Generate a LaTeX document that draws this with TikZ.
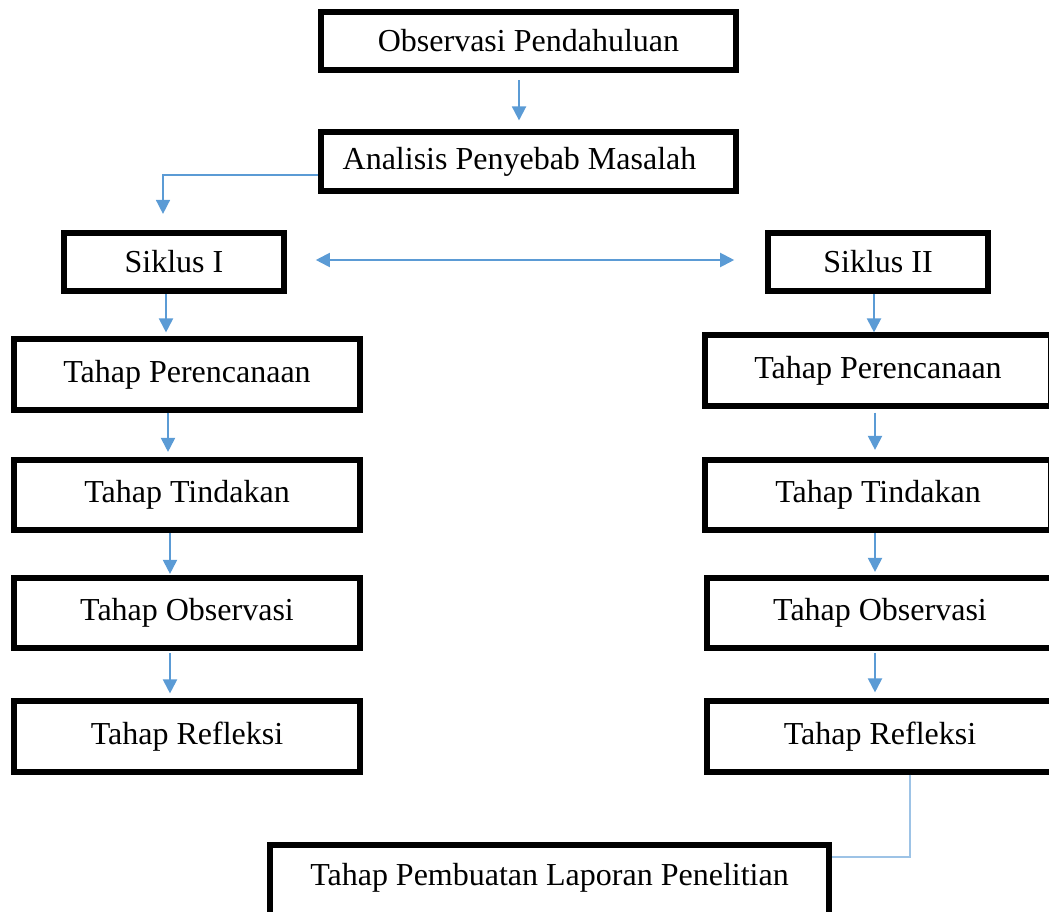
\documentclass[tikz,border=0pt]{standalone}
\usepackage{fontspec}
\setmainfont{Liberation Serif}
\usepackage{tikz}
\usetikzlibrary{calc,arrows.meta}
\definecolor{flowblue}{HTML}{5B9BD5}
\definecolor{linkblue}{HTML}{9DC3E6}
\tikzset{
  >={Triangle[width=10.5pt,length=10.5pt]},
  box/.style={draw=black, line width=4.2pt, fill=white, inner sep=0pt, font=\fontsize{24}{28}\selectfont},
  topbox/.style={box, minimum width=311.6pt, minimum height=43.9pt},
  cycbox/.style={box, minimum width=165pt, minimum height=43.9pt},
  stagebox/.style={box, minimum width=259.9pt, minimum height=52.9pt},
  reportbox/.style={box, minimum width=419.6pt, text height=30.2pt, text depth=28pt, anchor=base},
  flow/.style={draw=flowblue, line width=1.5pt, ->},
  link/.style={draw=linkblue, line width=0.8pt}
}

\begin{document}
\begin{tikzpicture}[x=0.75pt, y=-0.75pt]
  \useasboundingbox (0,0) rectangle (1049,912);
  \node[topbox] (obs) at (528.5,41) {Observasi Pendahuluan};
  \node[topbox] (ana) at (528.5,161.5) {Analisis Penyebab Masalah\hspace*{13.5pt}};
  \node[cycbox] (sik1) at (174,262) {Siklus I};
  \node[cycbox] (sik2) at (878,262) {Siklus II};
  \node[stagebox] (per1) at (187,374.5) {Tahap Perencanaan};
  \node[stagebox] (tin1) at (187,495) {Tahap Tindakan};
  \node[stagebox] (obs1) at (187,613) {Tahap Observasi};
  \node[stagebox] (ref1) at (187,736.5) {Tahap Refleksi};
  \node[stagebox] (per2) at (878,370.5) {Tahap Perencanaan};
  \node[stagebox] (tin2) at (878,495) {Tahap Tindakan};
  \node[stagebox] (obs2) at (880,613) {Tahap Observasi};
  \node[stagebox] (ref2) at (880,736.5) {Tahap Refleksi};
  \node[reportbox] (lap) at (549.5,885) {Tahap Pembuatan Laporan Penelitian};

  \draw[flow, shorten <=5.25pt, shorten >=6.75pt] ([xshift=-7.1pt]obs.south) -- ([xshift=-7.1pt]ana.north);
  \draw[flow, line width=1.1pt, shorten >=12pt] ([yshift=-10pt]ana.west) -| ([xshift=-8.25pt]sik1.north);
  \draw[flow, <->, shorten <=21.75pt, shorten >=23.25pt] ([yshift=1.5pt]sik1.east) -- ([yshift=1.5pt]sik2.west);

  \draw[flow, shorten >=3pt] ([xshift=-6pt]sik1.south) -- ([xshift=-6pt]sik1.south |- per1.north);
  \draw[flow, shorten >=3.75pt] ([xshift=-14.25pt]per1.south) -- ([xshift=-14.25pt]tin1.north);
  \draw[flow, shorten >=0.75pt] ([xshift=-12.75pt]tin1.south) -- ([xshift=-12.75pt]obs1.north);
  \draw[flow, shorten <=1.5pt, shorten >=3.75pt] ([xshift=-12.75pt]obs1.south) -- ([xshift=-12.75pt]ref1.north);

  \draw[flow] ([xshift=-3pt]sik2.south) -- ([xshift=-3pt]sik2.south |- per2.north);
  \draw[flow, shorten <=3pt, shorten >=5.25pt] ([xshift=-2.25pt]per2.south) -- ([xshift=-2.25pt]tin2.north);
  \draw[flow, shorten >=2.25pt] ([xshift=-2.25pt]tin2.south) -- ([xshift=-2.25pt]tin2.south |- obs2.north);
  \draw[flow, shorten <=1.5pt, shorten >=4.5pt] ([xshift=-3.75pt]obs2.south) -- ([xshift=-3.75pt]ref2.north);

  \draw[link] ([xshift=22.5pt]ref2.south) |- ([yshift=19.9pt]lap.east);
\end{tikzpicture}
\end{document}
